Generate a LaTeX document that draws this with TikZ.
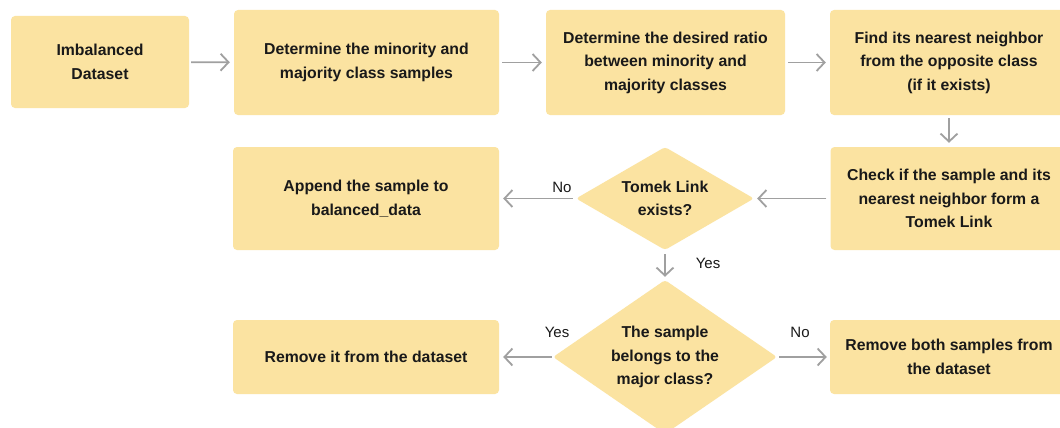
\documentclass[tikz,border=0pt]{standalone}
\usepackage{fontspec}
\setmainfont{Liberation Sans}
\usetikzlibrary{shapes.geometric,arrows.meta}
\definecolor{boxfill}{RGB}{251,227,161}
\definecolor{arrowgray}{RGB}{160,160,160}
\definecolor{txt}{RGB}{25,25,25}
\tikzset{
  stepbox/.style={rectangle, rounded corners=4pt, fill=boxfill, draw=none, text=txt,
    align=center, font=\fontsize{15.8}{23.5}\selectfont\bfseries, inner sep=0pt},
  decision/.style={diamond, rounded corners=3pt, fill=boxfill, draw=none, text=txt,
    align=center, font=\fontsize{15.8}{23.5}\selectfont\bfseries, inner sep=0pt},
  flow/.style={draw=arrowgray, line width=1.8pt, -{Straight Barb[length=8pt,width=17pt]}},
  lbl/.style={font=\fontsize{15}{17}\selectfont, text=txt, inner sep=0pt}
}
\begin{document}
\begin{tikzpicture}[x=1pt,y=-1pt]
\clip (0,0) rectangle (1060,428);
\fill[white] (0,0) rectangle (1060,428);
% boxes
\node[stepbox, minimum width=178, minimum height=92] (imb) at (100,62) {Imbalanced\\Dataset};
\node[stepbox, minimum width=265, minimum height=105] (det) at (366.5,62.5) {Determine the minority and\\majority class samples};
\node[stepbox, minimum width=239, minimum height=105] (ratio) at (665.5,62.5) {Determine the desired ratio\\between minority and\\majority classes};
\node[stepbox, minimum width=238, minimum height=105] (find) at (949,62.5) {Find its nearest neighbor\\from the opposite class\\(if it exists)};
\node[stepbox, minimum width=237, minimum height=103] (check) at (949,198.5) {Check if the sample and its\\nearest neighbor form a\\Tomek Link};
\node[decision, aspect=1.73, minimum width=178, minimum height=103] (tomek) at (665,198.5) {Tomek Link\\exists?};
\node[stepbox, minimum width=266, minimum height=103] (append) at (366,198.5) {Append the sample to\\balanced\_data};
\node[decision, aspect=1.45, minimum width=224, minimum height=154] (major) at (665,357) {The sample\\belongs to the\\major class?};
\node[stepbox, minimum width=266, minimum height=74] (remove) at (366,357) {Remove it from the dataset};
\node[stepbox, minimum width=238, minimum height=74] (both) at (949,357) {Remove both samples from\\the dataset};
% connectors
\draw[flow, shorten <=2pt, shorten >=4pt] (imb) -- (det);
\draw[flow, shorten <=3pt, shorten >=4pt] (det) -- (ratio);
\draw[flow, shorten <=3pt, shorten >=4pt] (ratio) -- (find);
\draw[flow, shorten <=3pt, shorten >=4pt] (find) -- (check);
\draw[flow, shorten <=4pt, shorten >=3pt] (check) -- (tomek);
\draw[flow, shorten <=3pt, shorten >=4pt] (tomek) -- (append);
\draw[flow, shorten <=4pt, shorten >=3pt] (tomek) -- (major);
\draw[flow, shorten <=1pt, shorten >=4pt] (major) -- (remove);
\draw[flow, shorten <=2pt, shorten >=3pt] (major) -- (both);
% labels
\node[lbl] (lno1) at (562,187) {No};
\node[lbl] (lyes1) at (708,263) {Yes};
\node[lbl] (lyes2) at (557,332) {Yes};
\node[lbl] (lno2) at (800,332) {No};
\end{tikzpicture}
\end{document}
